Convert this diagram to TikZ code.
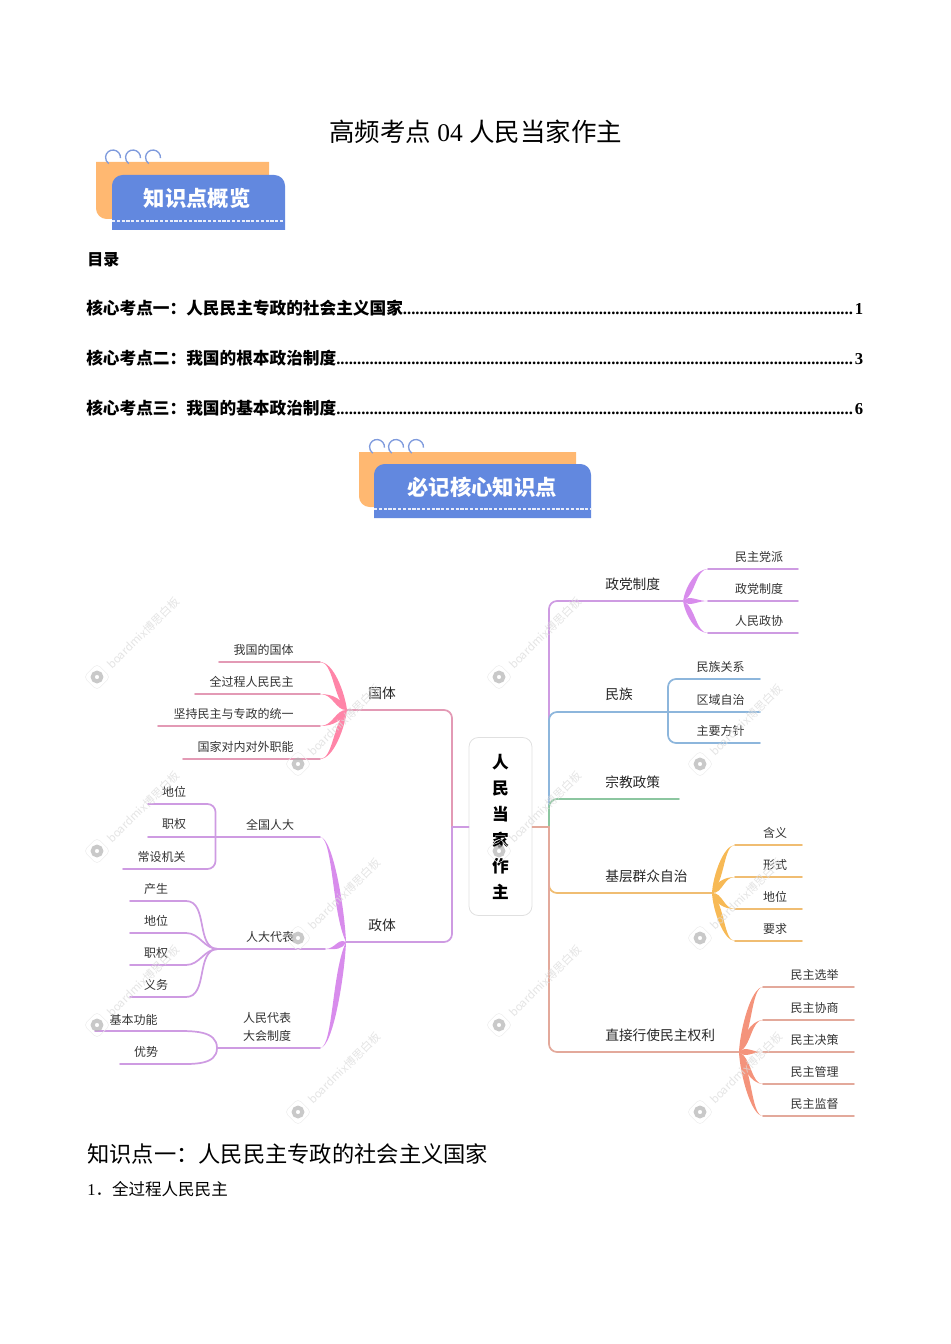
\documentclass[tikz,border=0pt]{standalone}
\usepackage{fontspec}
\usetikzlibrary{calc}
\setmainfont{Liberation Serif}
\newfontfamily\cjk{Noto Sans CJK SC}
\setsansfont{Liberation Sans}
\definecolor{bannerorange}{HTML}{FFB871}
\definecolor{bannerblue}{HTML}{6288DF}
\definecolor{ringblue}{HTML}{7F9BDD}
\definecolor{linepink}{HTML}{E39AB5}
\definecolor{hubpink}{HTML}{FF85A8}
\definecolor{linepurple}{HTML}{CE9BE2}
\definecolor{hubpurple}{HTML}{D88CEC}
\definecolor{lineblue}{HTML}{8DB6DC}
\definecolor{linegreen}{HTML}{8CC6A0}
\definecolor{lineorange}{HTML}{F0BD72}
\definecolor{huborange}{HTML}{F7B955}
\definecolor{linesalmon}{HTML}{E3A99B}
\definecolor{hubsalmon}{HTML}{F4937B}
\tikzset{
  leaftext/.style={font=\cjk\fontsize{9}{11}\selectfont, text=black!80, inner sep=0pt},
  branchtext/.style={font=\cjk\fontsize{10.3}{12}\selectfont, text=black!85, inner sep=0pt},
  tocline/.style={font=\bfseries\fontsize{12.5}{15}\selectfont, text width=582.75pt, inner sep=0pt, anchor=west},
  bantext/.style={font=\cjk\bfseries\fontsize{16}{18}\selectfont, text=white, inner sep=0pt},
  conn/.style={line width=1.3pt, line cap=round},
  elbow/.style={conn, rounded corners=6pt},
  ringline/.style={ringblue, line width=1pt},
  seam/.style={white!85!bannerblue, line width=1pt, dash pattern=on 2.4pt off 1.2pt},
  wmtext/.style={font=\cjk\fontsize{8.5}{10}\selectfont, text=black!14, rotate=45, anchor=west, inner sep=0pt, opacity=.75},
  wmbox/.style={draw=black!7, rotate=45, rounded corners=3pt, minimum size=14pt, inner sep=0pt},
  wmlogo/.style={circle, draw=black!30, line width=3pt, minimum size=6.5pt, inner sep=0pt, opacity=.7},
}
% tapered stroke: colour, start, tip
\newcommand{\taper}[3]{%
  \fill[#1] (#2) .. controls ($(#2)!.5!(#2-|#3)$) and ($(#2)!.7!(#3)!5pt!90:(#3)$) .. (#3)
    .. controls ($(#2)!.7!(#3)!5pt!-90:(#3)$) and ($(#2)!.5!(#2-|#3)$) .. (#2) -- cycle;
}
\begin{document}
\begin{tikzpicture}[x=0.75pt, y=-0.75pt]
  \useasboundingbox (0,0) rectangle (950,1344);

  % header and contents
  \node[font=\fontsize{19.1}{22}\selectfont, inner sep=0pt] (title) at (475.5,132) {{\cjk 高频考点} 04 {\cjk 人民当家作主}};
  \fill[bannerorange] (96,162) -- (269,162) -- (269,219) [rounded corners=8pt] -- (96,219) [sharp corners] -- cycle;
  \fill[bannerblue] (112,230) [rounded corners=8pt] -- (112,175) -- (285,175) [sharp corners] -- (285,230) -- cycle;
  \draw[seam] (112,221) -- (285,221);
  \foreach \x in {113,133,153}
    \draw[ringline] (\x,157.5) ++(-5:5.6pt) arc[start angle=-5, end angle=235, radius=5.6pt];
  \node[bantext] (ban1) at (197,198) {知识点概览};
  \node[font=\cjk\bfseries\fontsize{12}{14}\selectfont, anchor=west, inner sep=0pt] (toc) at (87,260) {目录};
  \node[tocline] (toc1) at (86,308) {{\cjk 核心考点一：人民民主专政的社会主义国家}\leaders\hbox{.}\hfill 1};
  \node[tocline] (toc2) at (86,358) {{\cjk 核心考点二：我国的根本政治制度}\leaders\hbox{.}\hfill 3};
  \node[tocline] (toc3) at (86,408) {{\cjk 核心考点三：我国的基本政治制度}\leaders\hbox{.}\hfill 6};
  \fill[bannerorange] (359,452) -- (576,452) -- (576,507) [rounded corners=8pt] -- (359,507) [sharp corners] -- cycle;
  \fill[bannerblue] (374,518) [rounded corners=8pt] -- (374,464) -- (591,464) [sharp corners] -- (591,518) -- cycle;
  \draw[seam] (374,509) -- (591,509);
  \foreach \x in {377,396,416}
    \draw[ringline] (\x,447) ++(-5:5.6pt) arc[start angle=-5, end angle=235, radius=5.6pt];
  \node[bantext] (ban2) at (482,487) {必记核心知识点};

  % centre
  \node[draw=black!12, line width=.6pt, rounded corners=7pt, minimum width=47.25pt, minimum height=133.5pt,
        align=center, inner sep=0pt, font=\cjk\bfseries\fontsize{12.5}{19.5}\selectfont] (root) at (500.5,826.5)
        {人\\民\\当\\家\\作\\主};
  \coordinate (lj) at (452,827);
  \coordinate (rj) at (549,827);

  % left side
  \coordinate (gth) at (347,710);
  \coordinate (zth) at (346,942);
  \node[branchtext] (gt) at (382,693) {国体};
  \node[branchtext] (zt) at (382,925) {政体};
  \draw[elbow, linepurple] (zth) -| (lj);
  \draw[elbow, linepink] (gth) -| (lj);
  \draw[conn, linepurple] (lj) -- (root.west |- lj);
  \foreach \name/\txt/\xend/\y in {ga/我国的国体/219/662, gb/全过程人民民主/195/694,
      gc/坚持民主与专政的统一/158/726, gd/国家对内对外职能/183/759}{
    \coordinate (\name e) at (\xend,\y);
    \coordinate (\name c) at (320,\y);
    \node[leaftext, anchor=east] (\name) at (294,\y-12) {\txt};
    \draw[conn, linepink] (\name e) -- (\name c);
    \taper{hubpink}{\name c}{gth}
  }
  % quan guo ren da
  \coordinate (qgh) at (320,837);
  \coordinate (qge) at (148,837);
  \coordinate (dbh) at (325,949);
  \coordinate (dbj) at (218,949);
  \coordinate (rdh) at (320,1048);
  \coordinate (rdj) at (217,1048);
  \node[leaftext] (qg) at (270,825) {全国人大};
  \node[leaftext] (db) at (270,937) {人大代表};
  \node[leaftext, align=center, font=\cjk\fontsize{9}{13.5}\selectfont] (rd) at (267,1027) {人民代表\\大会制度};
  \draw[conn, linepurple] (qge) -- (qgh);
  \draw[conn, linepurple] (dbj) -- (dbh);
  \draw[conn, linepurple] (rdj) -- (rdh);
  \taper{hubpurple}{qgh}{zth}
  \taper{hubpurple}{dbh}{zth}
  \taper{hubpurple}{rdh}{zth}
  \coordinate (qga) at (148,804);
  \coordinate (qgb) at (123,869);
  \coordinate (qgv) at (215.5,837);
  \draw[elbow, linepurple] (qga) -- (qga -| qgv) -- (qgb -| qgv) -- (qgb);
  \node[leaftext] (qg1) at (174,792) {地位};
  \node[leaftext] (qg2) at (174,824) {职权};
  \node[leaftext, anchor=east] (qg3) at (186,857) {常设机关};
  \foreach \name/\txt/\y in {da/产生/901, db2/地位/933, dc/职权/965, dd/义务/997}{
    \coordinate (\name e) at (130,\y);
    \coordinate (\name c) at (186,\y);
    \node[leaftext] (\name) at (156,\y-12) {\txt};
    \draw[conn, linepurple] (\name e) -- (\name c) to[out=0, in=180] (dbj);
  }
  \coordinate (rae) at (95,1031);
  \coordinate (rac) at (175,1031);
  \coordinate (rbe) at (120,1064);
  \coordinate (rbc) at (175,1064);
  \node[leaftext, anchor=east] (ra) at (158,1020) {基本功能};
  \node[leaftext] (rb) at (146,1052) {优势};
  \draw[conn, linepurple] (rae) -- (rac) to[out=0, in=90] (rdj);
  \draw[conn, linepurple] (rbe) -- (rbc) to[out=0, in=-90] (rdj);

  % right side
  \coordinate (zdh) at (683,601);
  \coordinate (mze) at (760,712);
  \coordinate (zje) at (679,799);
  \coordinate (jch) at (712,893);
  \coordinate (zqh) at (739,1052);
  \node[branchtext, anchor=west] (zd) at (605,584) {政党制度};
  \node[branchtext, anchor=west] (mz) at (605,694) {民族};
  \node[branchtext, anchor=west] (zj) at (605,782) {宗教政策};
  \node[branchtext, anchor=west] (jc) at (605,876) {基层群众自治};
  \node[branchtext, anchor=west] (zq) at (605,1035) {直接行使民主权利};
  \draw[elbow, linepurple] (zdh) -| (rj);
  \draw[elbow, lineblue] (mze) -| (rj);
  \draw[elbow, linegreen] (zje) -| (rj);
  \draw[elbow, lineorange] (jch) -| (rj);
  \draw[elbow, linesalmon] (zqh) -| (rj);
  \draw[conn, linesalmon] (root.east |- rj) -- (rj);

  \foreach \name/\txt/\y in {za/民主党派/569, zb/政党制度/601, zc/人民政协/633}{
    \coordinate (\name e) at (798,\y);
    \coordinate (\name c) at (708,\y);
    \node[leaftext] (\name) at (759,\y-12) {\txt};
    \draw[conn, linepurple] (\name e) -- (\name c);
    \taper{hubpurple}{\name c}{zdh}
  }
  \coordinate (mzv) at (668,712);
  \coordinate (mza) at (760,679);
  \coordinate (mzc) at (760,743);
  \draw[elbow, lineblue] (mza) -- (mza -| mzv) -- (mzc -| mzv) -- (mzc);
  \node[leaftext] (mz1) at (720.5,667) {民族关系};
  \node[leaftext] (mz2) at (720.5,700) {区域自治};
  \node[leaftext] (mz3) at (720.5,731) {主要方针};
  \foreach \name/\txt/\y in {ja/含义/845, jb/形式/877, jd/地位/909, je/要求/941}{
    \coordinate (\name e) at (802,\y);
    \coordinate (\name c) at (735,\y);
    \node[leaftext] (\name) at (775,\y-12) {\txt};
    \draw[conn, lineorange] (\name e) -- (\name c);
    \taper{huborange}{\name c}{jch}
  }
  \foreach \name/\txt/\y in {qa/民主选举/987, qb/民主协商/1020, qc/民主决策/1052, qd/民主管理/1084, qe/民主监督/1116}{
    \coordinate (\name e) at (854,\y);
    \coordinate (\name c) at (763,\y);
    \node[leaftext] (\name) at (814.5,\y-12) {\txt};
    \draw[conn, linesalmon] (\name e) -- (\name c);
    \taper{hubsalmon}{\name c}{zqh}
  }

  % watermark
  \foreach \x/\y [count=\i] in {97/677, 499/677, 298/764, 700/764, 97/851, 499/851,
      298/938, 700/938, 97/1025, 499/1025, 298/1112, 700/1112}{
    \node[wmbox] (wmb\i) at (\x,\y) {};
    \node[wmlogo] (wml\i) at (\x,\y) {};
    \node[wmtext] (wmt\i) at (\x+12,\y-10) {boardmix博思白板};
  }

  % below the map
  \node[font=\cjk\fontsize{16.7}{20}\selectfont, anchor=west, inner sep=0pt] (sec) at (87,1154) {知识点一：人民民主专政的社会主义国家};
  \node[font=\fontsize{12.4}{15}\selectfont, anchor=west, inner sep=0pt] (item) at (87,1189) {1{\cjk ．全过程人民民主}};
\end{tikzpicture}
\end{document}
